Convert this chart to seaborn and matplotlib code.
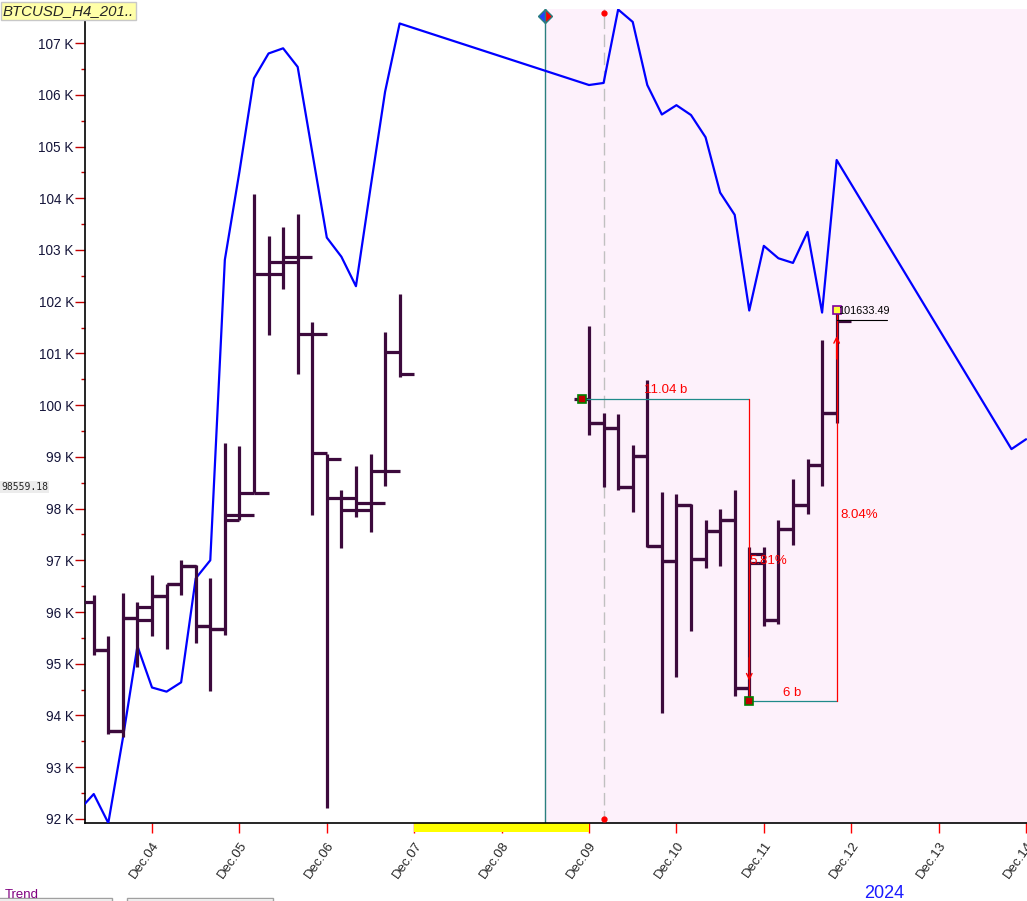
"""
BTCUSD H4 chart with bar range measurement (recreated)
"""
import numpy as np
import pandas as pd
import matplotlib
matplotlib.use("Agg")
import matplotlib.pyplot as plt
import matplotlib.dates as mdates
import matplotlib.transforms as mtransforms
from matplotlib.patches import Rectangle
import seaborn as sns

# --- Data (prices in thousands) ---
# left block: Dec03 08:00 .. Dec06 20:00, right block: Dec09 00:00 .. Dec11 20:00
left_times = pd.date_range("2024-12-03 08:00", periods=22, freq="4h")
left_open = [96.20, 95.27, 93.69, 95.88, 95.85, 96.31, 96.54, 96.89, 95.73, 95.67, 97.78,
             97.88, 98.31, 102.53, 102.77, 102.86, 101.37, 98.95, 98.20, 97.97, 98.10, 98.73]
left_high = [96.33, 95.54, 96.37, 96.20, 96.72, 96.55, 97.00, 96.90, 96.65, 99.26, 99.21,
             104.09, 103.27, 103.45, 103.69, 101.60, 99.05, 98.36, 98.82, 99.05, 101.41, 102.15]
left_low = [95.16, 93.64, 93.59, 94.93, 95.54, 95.28, 96.33, 95.41, 94.47, 95.56, 97.78,
            98.30, 101.36, 102.24, 100.60, 97.88, 92.21, 97.23, 97.84, 97.55, 98.44, 100.55]
left_close = [95.27, 93.69, 95.88, 96.09, 96.31, 96.54, 96.89, 95.73, 95.67, 97.88, 98.31,
              102.53, 102.77, 102.86, 101.37, 99.08, 98.20, 97.97, 98.10, 98.73, 101.02, 100.61]

right_times = pd.date_range("2024-12-09 00:00", periods=18, freq="4h")
right_open = [100.11, 99.65, 99.55, 98.42, 99.02, 97.28, 96.99, 98.06, 97.02, 97.57, 97.78,
              94.54, 97.12, 95.85, 97.60, 98.07, 98.84, 99.84]
right_high = [101.53, 99.85, 99.83, 99.23, 100.49, 98.32, 98.28, 98.09, 97.77, 98.00, 98.36,
              97.26, 97.25, 97.78, 98.57, 98.95, 101.25, 101.84]
right_low = [99.42, 98.42, 98.35, 97.93, 97.26, 94.05, 94.75, 95.64, 96.86, 96.88, 94.38,
             94.27, 95.72, 95.77, 97.30, 97.90, 98.44, 99.66]
right_close = [99.65, 99.55, 98.42, 99.02, 97.28, 96.99, 98.06, 97.02, 97.57, 97.78, 94.54,
               96.94, 95.85, 97.60, 98.07, 98.84, 99.84, 101.63]

# blue indicator line
trend_times = pd.to_datetime([
    "2024-12-03 04:00", "2024-12-03 08:00", "2024-12-03 12:00", "2024-12-03 16:00",
    "2024-12-03 20:00", "2024-12-04 00:00", "2024-12-04 04:00", "2024-12-04 08:00",
    "2024-12-04 12:00", "2024-12-04 16:00", "2024-12-04 20:00", "2024-12-05 00:00",
    "2024-12-05 04:00", "2024-12-05 08:00", "2024-12-05 12:00", "2024-12-05 16:00",
    "2024-12-05 20:00", "2024-12-06 00:00", "2024-12-06 04:00", "2024-12-06 08:00",
    "2024-12-06 12:00", "2024-12-06 16:00", "2024-12-06 20:00",
    "2024-12-09 00:00", "2024-12-09 04:00", "2024-12-09 08:00", "2024-12-09 12:00",
    "2024-12-09 16:00", "2024-12-09 20:00", "2024-12-10 00:00", "2024-12-10 04:00",
    "2024-12-10 08:00", "2024-12-10 12:00", "2024-12-10 16:00", "2024-12-10 20:00",
    "2024-12-11 00:00", "2024-12-11 04:00", "2024-12-11 08:00", "2024-12-11 12:00",
    "2024-12-11 16:00", "2024-12-11 20:00", "2024-12-13 20:00", "2024-12-14 00:00"])
trend_values = [92.17, 92.48, 91.92, 93.56, 95.34, 94.54, 94.46, 94.64, 96.65, 97.00,
                102.81, 104.51, 106.32, 106.80, 106.90, 106.54, 104.89, 103.24, 102.87,
                102.30, 104.20, 106.06, 107.38,
                106.19, 106.23, 107.65, 107.41, 106.19, 105.62, 105.80, 105.61, 105.18,
                104.11, 103.68, 101.83, 103.08, 102.84, 102.75, 103.35, 101.79, 104.74,
                99.15, 99.34]

# measurement tool points
start_time, start_price = pd.Timestamp("2024-12-08 22:00"), 100.11
low_time, low_price = pd.Timestamp("2024-12-10 20:00"), 94.27
high_time, high_price = pd.Timestamp("2024-12-11 20:00"), 101.84
last_close_label = "101633.49"

BAR_COLOR = "#3c0a3c"
STEP = pd.Timedelta(hours=4)

sns.set_style("white")
plt.rcParams['font.family'] = ['Liberation Sans', 'DejaVu Sans']

fig = plt.figure(figsize=(10.27, 9.01), dpi=100)
ax = fig.add_axes([85 / 1027, 78 / 901, 942 / 1027, 814 / 901])

x_left = pd.Timestamp("2024-12-03 05:36")
x_right = pd.Timestamp("2024-12-14 00:16")
ax.set_xlim(x_left, x_right)
ax.set_ylim(91.92, 107.66)

# pink selection region and markers
sel_time = pd.Timestamp("2024-12-08 12:00")
ax.axvspan(sel_time, x_right, color="#fdf1fb", zorder=0, lw=0)
ax.axvline(sel_time, color="#2a7f7f", lw=1, zorder=1)
ax.plot([sel_time], [107.52], marker="D", ms=7, fillstyle="left", markerfacecolor="#2040ff",
        markerfacecoloralt="red", markeredgecolor="#2a7f7f", zorder=5, clip_on=False)
dash_time = pd.Timestamp("2024-12-09 04:00")
ax.axvline(dash_time, color="#c0c0c0", lw=1, ls=(0, (9, 4)), zorder=1)
trans_x = mtransforms.blended_transform_factory(ax.transData, ax.transAxes)
ax.plot([dash_time, dash_time], [0.995, 0.005], ls="none", marker="o", ms=3.5, color="red",
        transform=trans_x, clip_on=False, zorder=5)

# weekend strip below axis
ax.add_patch(Rectangle((mdates.date2num(pd.Timestamp("2024-12-07")), -0.0105),
                       2.0, 0.0105, transform=trans_x, color="#ffff00", clip_on=False, lw=0))

# blue trend line
trend_df = pd.DataFrame({"time": trend_times, "value": trend_values})
sns.lineplot(data=trend_df, x="time", y="value", ax=ax, color="#0000ff", lw=1.6,
             sort=False, estimator=None, zorder=3)

# OHLC bars: vertical range, open tick left, close tick right
for times, o, h, l, c in [(left_times, left_open, left_high, left_low, left_close),
                          (right_times, right_open, right_high, right_low, right_close)]:
    ax.vlines(times, l, h, color=BAR_COLOR, lw=2.3, zorder=4)
    ax.hlines(o, times - STEP, times, color=BAR_COLOR, lw=2.3, zorder=4)
    ax.hlines(c, times, times + STEP, color=BAR_COLOR, lw=2.3, zorder=4)

# measurement tool
ax.plot([start_time, low_time], [start_price, start_price], color="#1f8a8a", lw=0.9, zorder=5)
ax.plot([low_time, low_time], [start_price, low_price], color="red", lw=0.9, zorder=5)
ax.plot([low_time, high_time], [low_price, low_price], color="#1f8a8a", lw=0.9, zorder=5)
ax.plot([high_time, high_time], [low_price, high_price], color="red", lw=0.9, zorder=5)
ax.annotate("", xy=(low_time, low_price + 0.35), xytext=(low_time, low_price + 0.9),
            arrowprops=dict(arrowstyle="->", color="red", lw=1), zorder=6)
ax.annotate("", xy=(high_time, high_price - 0.45), xytext=(high_time, high_price - 1.0),
            arrowprops=dict(arrowstyle="->", color="red", lw=1), zorder=6)
ax.plot([start_time], [start_price], marker="s", ms=6, mfc="#c00000", mec="#008000", mew=1.2, zorder=7)
ax.plot([low_time], [low_price], marker="s", ms=6, mfc="#c00000", mec="#008000", mew=1.2, zorder=7)
ax.plot([high_time], [high_price], marker="s", ms=6, mfc="#ffff40", mec="#8000a0", mew=1.2, zorder=7)

ax.text(pd.Timestamp("2024-12-09 21:00"), start_price + 0.06, "11.04 b", color="red",
        fontsize=9.5, ha="center", va="bottom", zorder=8)
ax.text(low_time, 96.98, "5.81%", color="red", fontsize=9.5, ha="left", va="center", zorder=8)
ax.text(high_time + pd.Timedelta(hours=1), 97.88, "8.04%", color="red", fontsize=9.5,
        ha="left", va="center", zorder=8)
ax.text(pd.Timestamp("2024-12-11 07:40"), low_price + 0.05, "6 b", color="red", fontsize=9.5,
        ha="center", va="bottom", zorder=8)
ax.text(high_time + pd.Timedelta(minutes=20), 101.72, last_close_label, color="black",
        fontsize=7.8, ha="left", va="bottom", zorder=8)
ax.plot([high_time, high_time + pd.Timedelta(hours=13.7)], [101.645, 101.645],
        color="black", lw=0.8, zorder=8)

# axes styling
for side in ["top", "right"]:
    ax.spines[side].set_visible(False)
for side in ["left", "bottom"]:
    ax.spines[side].set_color("black")
    ax.spines[side].set_linewidth(1.2)

ax.set_yticks(np.arange(92, 108, 1))
ax.set_yticks(np.arange(92.5, 107.6, 1), minor=True)
ax.set_yticklabels([f"{v} K" for v in range(92, 108)])
ax.tick_params(axis="y", which="major", left=True, length=7, width=1, color="#c00000",
               labelsize=9.8, labelcolor="#15153a", pad=1)
ax.tick_params(axis="y", which="minor", left=True, length=3, width=1, color="#c00000")

ax.xaxis.set_major_locator(mdates.DayLocator())
ax.xaxis.set_major_formatter(mdates.DateFormatter("%b.%d"))
ax.tick_params(axis="x", which="major", bottom=True, length=7.5, width=1, color="red",
               labelsize=9.5, pad=4)
for lab in ax.get_xticklabels():
    lab.set_rotation(55)
    lab.set_ha("right")
    lab.set_va("top")
    lab.set_rotation_mode("anchor")
ax.set_xlabel("")
ax.set_ylabel("")

# header and footer texts
fig.text(3 / 1027, 1 - 11 / 901, "BTCUSD_H4_201..", fontsize=10.8, style="italic",
         ha="left", va="center",
         bbox=dict(boxstyle="square,pad=0.15", facecolor="#ffffa8", edgecolor="#c8c8c8", lw=1))
fig.text(1 / 1027, 1 - 487 / 901, "98559.18", fontsize=7, family="DejaVu Sans Mono",
         ha="left", va="center",
         bbox=dict(boxstyle="square,pad=0.15", facecolor="#ececec", edgecolor="none"))
fig.text(884 / 1027, 1 - 893 / 901, "2024", fontsize=13, color="#1a1aff",
         ha="center", va="center")
fig.text(5 / 1027, 1 - 895 / 901, "Trend", fontsize=9.5, color="#800080",
         ha="left", va="center")
fig.patches.append(Rectangle((-2 / 1027, 0), 114 / 1027, 3 / 901, transform=fig.transFigure,
                             fill=False, edgecolor="#a0a0a0", lw=1))
fig.patches.append(Rectangle((127 / 1027, 0), 146 / 1027, 3 / 901, transform=fig.transFigure,
                             fill=False, edgecolor="#a0a0a0", lw=1))

fig.savefig("out.png", dpi=100)
